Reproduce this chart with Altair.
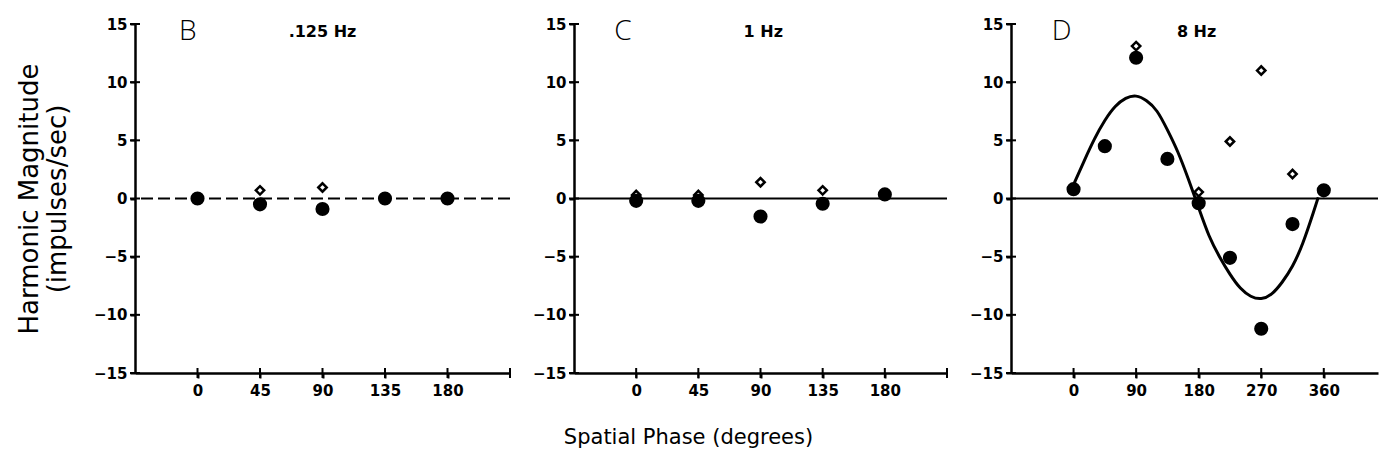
import altair as alt
import pandas as pd

# Panel B: 0.125 Hz
b_phase = [0, 45, 90, 135, 180]
b_filled = [0.0, -0.5, -0.9, 0.0, 0.0]
b_open = [0.0, 0.7, 0.95, 0.0, 0.0]

# Panel C: 1 Hz
c_phase = [0, 45, 90, 135, 180]
c_filled = [-0.2, -0.2, -1.55, -0.45, 0.35]
c_open = [0.3, 0.3, 1.4, 0.7, 0.35]

# Panel D: 8 Hz
d_phase = [0, 45, 90, 135, 180, 225, 270, 315, 360]
d_filled = [0.8, 4.5, 12.1, 3.4, -0.4, -5.1, -11.2, -2.2, 0.7]
d_open = [0.8, 4.5, 13.1, 3.4, 0.55, 4.9, 11.0, 2.1, 0.7]

# Fitted sinusoid through the 8 Hz responses
fit_phase = [0, 15, 30, 45, 60, 75, 90, 105, 120, 135, 150, 165, 180,
             195, 210, 225, 240, 255, 270, 285, 300, 315, 330, 345, 352]
fit_value = [1.2, 3.2, 5.1, 6.7, 7.9, 8.6, 8.8, 8.4, 7.5, 5.9, 4.0, 1.7, -0.8,
             -3.2, -5.0, -6.5, -7.7, -8.4, -8.6, -8.2, -7.2, -5.8, -3.8, -1.2, 0.1]

# axis tick values (labelled) and tick-mark positions
bc_ticks = [0, 45, 90, 135, 180]
bc_marks = [0, 45, 90, 135, 180, 225]
d_ticks = [0, 90, 180, 270, 360]
d_marks = [0, 90, 180, 270, 360]
y_ticks = [-15, -10, -5, 0, 5, 10, 15]

panel_letters = ["B", "C", "D"]
panel_freqs = [".125 Hz", "1 Hz", "8 Hz"]
letter_x = [-7, -9.5, -17]
freq_x = [90, 92, 177]
label_y = 14.3

NUM_FONT = "DejaVu Sans"
TXT_FONT = "DejaVu Sans"
LET_FONT = "Open Sans"


def panel(i, phase, filled, opened, domain, ticks, marks, width, dashed_zero,
          fit=None, y_title=False, x_title=False):
    pts_f = pd.DataFrame({"phase": phase, "value": filled})
    pts_o = pd.DataFrame({"phase": phase, "value": opened})

    x_axis_kw = dict(values=ticks, labelFont=NUM_FONT, labelFontSize=15,
                     labelFontWeight="bold", labelPadding=5, tickSize=5,
                     tickWidth=2, labelColor="black")
    if x_title:
        x_axis_kw.update(title="Spatial Phase (degrees)", titleFont=TXT_FONT,
                         titleFontSize=21, titleFontWeight="normal",
                         titleX=114, titleY=70, titleBaseline="alphabetic",
                         titleColor="black")
    else:
        x_axis_kw.update(title=None)
    x = alt.X("phase:Q", scale=alt.Scale(domain=domain, nice=False, zero=False),
              axis=alt.Axis(**x_axis_kw))

    y_axis_kw = dict(values=y_ticks, labelFont=NUM_FONT, labelFontSize=15,
                     labelFontWeight="bold", labelPadding=3, tickSize=5,
                     tickWidth=2, labelColor="black")
    if y_title:
        y_axis_kw.update(title=["Harmonic Magnitude", "(impulses/sec)"],
                         titleFont=TXT_FONT, titleFontSize=26,
                         titleFontWeight="normal", titleLineHeight=28,
                         titleAngle=-90, titleBaseline="top",
                         titleAlign="center", titleX=-119, titleY=174.5,
                         titleColor="black")
    else:
        y_axis_kw.update(title=None)
    y = alt.Y("value:Q", scale=alt.Scale(domain=[-15, 15], nice=False),
              axis=alt.Axis(**y_axis_kw))

    zero = alt.Chart(pd.DataFrame({"value": [0]})).mark_rule(
        color="black", strokeWidth=2,
        **({"strokeDash": [12, 5]} if dashed_zero else {})
    ).encode(y=y)

    # cross-shaped tick marks straddling both axis lines
    xt = pd.DataFrame({"phase": marks, "value": [-15] * len(marks)})
    yt = pd.DataFrame({"phase": [domain[0]] * len(y_ticks), "value": y_ticks})
    x_cross = alt.Chart(xt).mark_tick(
        orient="vertical", size=10, thickness=2, color="black", opacity=1
    ).encode(x=x, y=y)
    y_cross = alt.Chart(yt).mark_tick(
        orient="horizontal", size=10, thickness=2, color="black", opacity=1
    ).encode(x=x, y=y)

    layers = [zero, x_cross, y_cross]
    if fit is not None:
        fit_df = pd.DataFrame({"phase": fit[0], "value": fit[1]})
        layers.append(alt.Chart(fit_df).mark_line(
            color="black", strokeWidth=3, interpolate="natural"
        ).encode(x=x, y=y))

    layers.append(alt.Chart(pts_o).mark_point(
        shape="diamond", size=70, filled=True, fill="white", stroke="black",
        strokeWidth=2.5, opacity=1
    ).encode(x=x, y=y))
    layers.append(alt.Chart(pts_f).mark_circle(
        size=200, color="black", opacity=1
    ).encode(x=x, y=y))

    lab = pd.DataFrame({"phase": [letter_x[i]], "value": [label_y],
                        "t": [panel_letters[i]]})
    frq = pd.DataFrame({"phase": [freq_x[i]], "value": [label_y],
                        "t": [panel_freqs[i]]})
    layers.append(alt.Chart(lab).mark_text(
        font=LET_FONT, fontSize=28, fontWeight=300, color="black",
        baseline="middle"
    ).encode(x=x, y=y, text="t:N"))
    layers.append(alt.Chart(frq).mark_text(
        font=NUM_FONT, fontSize=16, fontWeight="bold", color="black",
        baseline="middle"
    ).encode(x=x, y=y, text="t:N"))

    return alt.layer(*layers).properties(width=width, height=349)


pB = panel(0, b_phase, b_filled, b_open, [-45, 225], bc_ticks, bc_marks, 375,
           True, y_title=True)
pC = panel(1, c_phase, c_filled, c_open, [-45, 225], bc_ticks, bc_marks, 373,
           False, x_title=True)
pD = panel(2, d_phase, d_filled, d_open, [-90, 438], d_ticks, d_marks, 367,
           False, fit=(fit_phase, fit_value))

chart = alt.hconcat(pB, pC, pD, spacing=64, bounds="flush").properties(
    padding={"left": 15, "top": 17, "right": 0, "bottom": 4},
    background="white",
).configure_view(stroke=None).configure_axis(
    domainColor="black", domainWidth=2.5, tickColor="black", grid=False
)

chart.save("out.html", embed_options={"renderer": "svg", "actions": False})
